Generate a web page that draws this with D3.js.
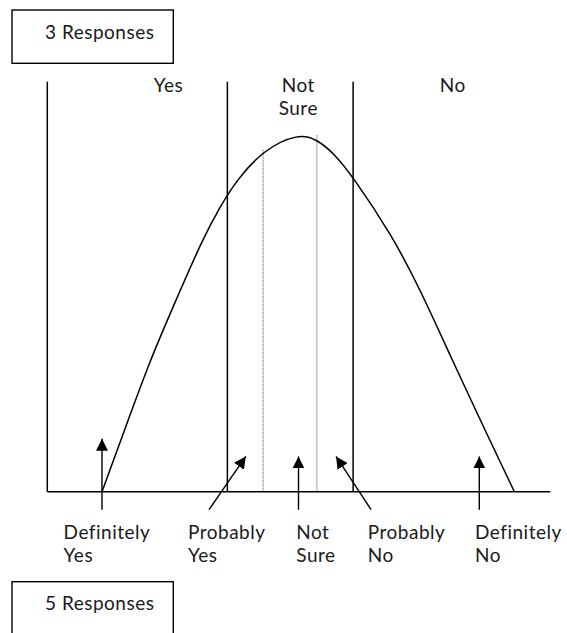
<!DOCTYPE html>
<html>
<head>
<meta charset="utf-8">
<script src="https://cdn.jsdelivr.net/npm/d3@7"></script>
<style>
  html, body { margin: 0; padding: 0; background: #fff; }
  svg { display: block; }
  text { font-family: Lato, "Open Sans", sans-serif; font-size: 19px; fill: #1a1a1a; letter-spacing: 0.5px; }
</style>
</head>
<body>
<svg id="chart" width="567" height="633"></svg>
<script>
// ---- data ----
const boxTitles = ["3 Responses", "5 Responses"];

const regionLabels = [["Yes"], ["Not", "Sure"], ["No"]];
const regionLabelPos = [24.1, 49.9, 80.6];
const regionDividers = [0, 35.8, 60.8];

const curveX = [10.87, 15.67, 20.48, 25.05, 30.82, 34.39, 37.71, 43.0, 49.96, 53.62, 56.92, 60.78, 68.53, 74.16, 80.46, 86.6, 92.05, 92.84];
const curveY = [0, 16.1, 32.2, 45.2, 61.5, 69.6, 76.1, 83.4, 87.4, 85.9, 82.6, 76.8, 62.5, 49.3, 32.2, 16.1, 2.1, 0];

const dottedX = [42.9, 53.6];
const dottedTop = [83.4, 86.9];

const responseLabels = [["Definitely", "Yes"], ["Probably", "Yes"], ["Not", "Sure"], ["Probably", "No"], ["Definitely", "No"]];
const responseLabelX = [3.24, 27.97, 49.5, 63.72, 85.03];
const arrowTailX = [10.87, 32.15, 49.94, 64.37, 85.88];
const arrowTailY = [-4.39, -4.39, -4.39, -4.39, -4.39];
const arrowTipX = [10.87, 39.46, 49.94, 57.4, 85.88];
const arrowTipY = [12.93, 8.61, 8.61, 8.61, 8.61];

// ---- drawing ----
const svg = d3.select("#chart");
const x = d3.scaleLinear().domain([0, 100]).range([47.3, 550.3]);
const y = d3.scaleLinear().domain([0, 100]).range([491.7, 81.7]);

// boxes
const boxY = [10, 581.7];
boxTitles.forEach((t, i) => {
  svg.append("rect")
    .attr("x", 12).attr("y", boxY[i])
    .attr("width", 161.3).attr("height", 53.3)
    .attr("fill", "none").attr("stroke", "#000").attr("stroke-width", 1.4);
  svg.append("text")
    .attr("x", 45).attr("y", boxY[i] + 28.5)
    .text(t);
});

// arrow marker
svg.append("defs").append("marker")
  .attr("id", "head")
  .attr("markerUnits", "userSpaceOnUse")
  .attr("viewBox", "0 0 12 12")
  .attr("refX", 12).attr("refY", 6)
  .attr("markerWidth", 12).attr("markerHeight", 12)
  .attr("orient", "auto")
  .append("path")
  .attr("d", "M0,0 L12,6 L0,12 Z")
  .attr("fill", "#000");

// dotted lines
dottedX.forEach((dx, i) => {
  svg.append("line")
    .attr("x1", x(dx)).attr("x2", x(dx))
    .attr("y1", y(dottedTop[i])).attr("y2", y(0))
    .attr("stroke", "#444").attr("stroke-width", 1)
    .attr("stroke-dasharray", "1,1");
});

// region divider lines
regionDividers.forEach(d => {
  svg.append("line")
    .attr("x1", x(d)).attr("x2", x(d))
    .attr("y1", y(100)).attr("y2", y(0))
    .attr("stroke", "#000").attr("stroke-width", 1.5);
});

// baseline
svg.append("line")
  .attr("x1", x(0)).attr("x2", x(100))
  .attr("y1", y(0)).attr("y2", y(0))
  .attr("stroke", "#000").attr("stroke-width", 1.5);

// curve
const pts = curveX.map((v, i) => [v, curveY[i]]);
svg.append("path")
  .attr("d", d3.line().x(d => x(d[0])).y(d => y(d[1])).curve(d3.curveBasis)(pts))
  .attr("fill", "none").attr("stroke", "#000").attr("stroke-width", 1.5);

// region labels
regionLabels.forEach((lines, i) => {
  const t = svg.append("text")
    .attr("text-anchor", "middle")
    .attr("x", x(regionLabelPos[i])).attr("y", y(100) + 10);
  lines.forEach((l, j) => {
    t.append("tspan").attr("x", x(regionLabelPos[i])).attr("dy", j === 0 ? 0 : 23.3).text(l);
  });
});

// arrows
arrowTailX.forEach((tx, i) => {
  svg.append("line")
    .attr("x1", x(tx)).attr("y1", y(arrowTailY[i]))
    .attr("x2", x(arrowTipX[i])).attr("y2", y(arrowTipY[i]))
    .attr("stroke", "#000").attr("stroke-width", 1.4)
    .attr("marker-end", "url(#head)");
});

// response labels
responseLabels.forEach((lines, i) => {
  const t = svg.append("text")
    .attr("x", x(responseLabelX[i])).attr("y", y(0) + 47.5);
  lines.forEach((l, j) => {
    t.append("tspan").attr("x", x(responseLabelX[i])).attr("dy", j === 0 ? 0 : 23).text(l);
  });
});
</script>
</body>
</html>
